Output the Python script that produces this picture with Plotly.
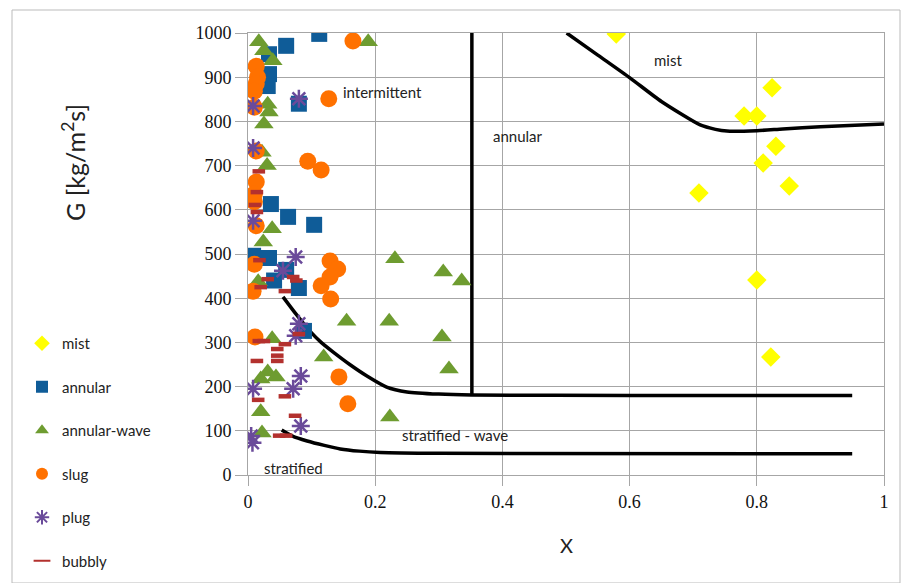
import plotly.graph_objects as go

# ---- data ----
mist_x = [0.579, 0.824, 0.780, 0.800, 0.830, 0.810, 0.851, 0.709, 0.800, 0.822]
mist_g = [998, 876, 812, 812, 744, 706, 654, 638, 441, 267]

annular_x = [0.112, 0.060, 0.033, 0.033, 0.031, 0.080, 0.036, 0.063, 0.104, 0.008, 0.033, 0.060, 0.041, 0.080, 0.088]
annular_g = [998, 971, 952, 907, 880, 840, 613, 584, 566, 496, 491, 464, 440, 423, 326]

aw_x = [0.017, 0.025, 0.039, 0.031, 0.033, 0.025, 0.022, 0.030, 0.038, 0.024, 0.016, 0.189, 0.231, 0.307,
        0.336, 0.038, 0.155, 0.222, 0.305, 0.316, 0.119, 0.223, 0.031, 0.044, 0.020, 0.020, 0.022]
aw_g = [980, 960, 937, 839, 821, 794, 730, 700, 557, 527, 437, 980, 489, 459,
        439, 308, 348, 348, 312, 240, 267, 131, 233, 222, 217, 143, 95]

slug_x = [0.165, 0.013, 0.015, 0.013, 0.010, 0.010, 0.127, 0.013, 0.094, 0.115, 0.013, 0.010, 0.010, 0.013,
          0.010, 0.008, 0.129, 0.141, 0.129, 0.115, 0.130, 0.011, 0.143, 0.157]
slug_g = [982, 925, 900, 885, 868, 832, 851, 733, 710, 690, 663, 636, 618, 564,
          477, 416, 484, 466, 448, 428, 398, 312, 222, 161]

plug_x = [0.008, 0.080, 0.008, 0.008, 0.075, 0.055, 0.080, 0.075, 0.008, 0.071, 0.083, 0.083, 0.005, 0.007]
plug_g = [835, 851, 740, 575, 493, 462, 342, 315, 195, 195, 224, 111, 88, 73]

bub_x = [0.017, 0.014, 0.011, 0.014, 0.018, 0.031, 0.020, 0.071, 0.058, 0.076, 0.017, 0.025, 0.058, 0.080,
         0.046, 0.046, 0.046, 0.014, 0.016, 0.058, 0.074, 0.049, 0.060]
bub_g = [687, 640, 611, 595, 486, 443, 425, 448, 416, 440, 303, 303, 296, 319,
         285, 270, 258, 258, 170, 178, 134, 89, 89]

# flow-regime boundaries
b_int_x = [0.352, 0.352]
b_int_g = [1000, 180]
b_sw_x = [0.055, 0.075, 0.097, 0.115, 0.134, 0.160, 0.187, 0.218, 0.250, 0.300, 0.352, 0.600, 0.950]
b_sw_g = [403, 365, 326, 300, 278, 250, 224, 199, 188, 183, 181, 180, 180]
b_st_x = [0.053, 0.070, 0.093, 0.120, 0.145, 0.175, 0.208, 0.300, 0.950]
b_st_g = [102, 88, 77, 67, 59, 54, 51, 49, 48]
b_mist_x = [0.501, 0.550, 0.601, 0.650, 0.711, 0.735, 0.753, 0.800, 0.841, 0.900, 1.000]
b_mist_g = [1000, 950, 898, 845, 792, 782, 778, 779, 783, 788, 794]

regions = ["intermittent", "annular", "mist", "stratified - wave", "stratified"]
region_x = [0.212, 0.425, 0.660, 0.325, 0.072]
region_g = [866, 767, 939, 90, 16]

x_ticks = [0, 0.2, 0.4, 0.6, 0.8, 1]
x_labels = ["0", "0.2", "0.4", "0.6", "0.8", "1"]
g_ticks = [0, 100, 200, 300, 400, 500, 600, 700, 800, 900, 1000]

SANS = "Lato, Liberation Sans, sans-serif"
SERIF = "Liberation Serif, serif"

# plot-area geometry in pixels (for placing outside texts)
L, R, T, B = 248, 884, 33, 475
def px_x(p):
    return (p - L) / (R - L)
def px_y(p):
    return (B - p) / (B - T)

fig = go.Figure()

for xs, gs in [(b_int_x, b_int_g), (b_sw_x, b_sw_g), (b_st_x, b_st_g), (b_mist_x, b_mist_g)]:
    fig.add_trace(go.Scatter(x=xs, y=gs, mode="lines", showlegend=False, hoverinfo="skip",
                             line=dict(color="black", width=3.5, shape="spline", smoothing=0.6)))

series = [
    ("mist", mist_x, mist_g, dict(symbol="diamond", size=15, color="#FFFF00")),
    ("annular", annular_x, annular_g, dict(symbol="square", size=16, color="#0F5C98")),
    ("annular-wave", aw_x, aw_g, dict(symbol="triangle-up", size=17, color="#6E9C30")),
    ("slug", slug_x, slug_g, dict(symbol="circle", size=17, color="#FF7100")),
    ("plug", plug_x, plug_g, dict(symbol="asterisk-open", size=15, color="#6A4A9A",
                                   line=dict(color="#6A4A9A", width=2.5))),
    ("bubbly", bub_x, bub_g, dict(symbol="line-ew-open", size=9, color="#B3312E",
                                   line=dict(color="#B3312E", width=4.5))),
]
for name, xs, gs, mk in series:
    fig.add_trace(go.Scatter(x=xs, y=gs, mode="markers", name=name, legendgroup=name, marker=mk))

for t, xv, gv in zip(regions, region_x, region_g):
    fig.add_annotation(x=xv, y=gv, text=t, showarrow=False, xref="x", yref="y",
                       xanchor="center", yanchor="middle",
                       font=dict(family=SANS, size=15, color="#222222"))

fig.add_annotation(x=px_x(74), y=px_y(163), xref="paper", yref="paper", text="G [kg/m<sup>2</sup>s]",
                   textangle=-90, showarrow=False, xanchor="center", yanchor="middle",
                   font=dict(family=SANS, size=25, color="#222222"))

fig.add_annotation(x=px_x(566), y=px_y(545), xref="paper", yref="paper", text="X", showarrow=False,
                   xanchor="center", yanchor="middle",
                   font=dict(family=SANS, size=20, color="#222222"))

# outer chart border
fig.add_shape(type="rect", xref="paper", yref="paper",
              x0=px_x(12), x1=px_x(900), y0=px_y(583), y1=px_y(10),
              line=dict(color="#BBBBBB", width=1), layer="below")

fig.update_layout(
    width=908, height=583,
    margin=dict(l=L, r=908 - R, t=T, b=583 - B),
    paper_bgcolor="white", plot_bgcolor="white",
    legend=dict(xref="container", yref="container", x=22 / 908, y=1 - 327 / 583,
                xanchor="left", yanchor="top", tracegroupgap=21, itemsizing="constant",
                font=dict(family=SANS, size=15, color="#222222"), bgcolor="rgba(0,0,0,0)"),
    xaxis=dict(range=[0, 1], tickvals=x_ticks, ticktext=x_labels,
               showgrid=True, gridcolor="#A6A6A6", gridwidth=1, zeroline=False,
               showline=True, linecolor="#A6A6A6", mirror=True,
               ticks="outside", ticklen=10, tickcolor="#A6A6A6",
               tickfont=dict(family=SERIF, size=18, color="#111111")),
    yaxis=dict(range=[0, 1000], tickvals=g_ticks,
               showgrid=True, gridcolor="#A6A6A6", gridwidth=1, zeroline=False,
               showline=True, linecolor="#A6A6A6", mirror=True,
               ticks="outside", ticklen=12, tickcolor="#A6A6A6",
               tickfont=dict(family=SERIF, size=18, color="#111111")),
)

fig.write_html("out.html")
